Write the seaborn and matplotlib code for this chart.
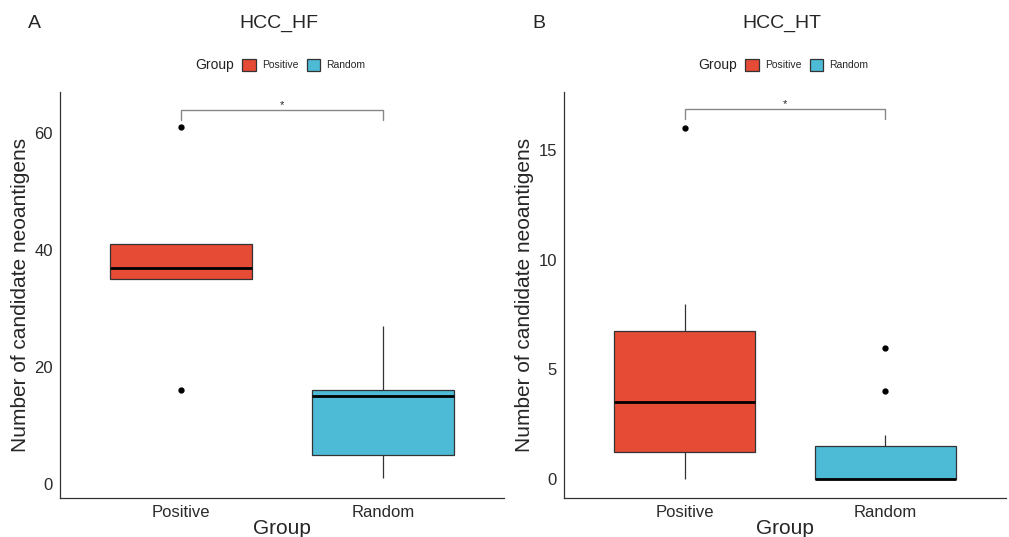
import pandas as pd
import seaborn as sns
import matplotlib.pyplot as plt
from matplotlib.patches import Patch

# values (quartiles / whiskers / outliers)
groups = ["Positive", "Random"]
hf_positive = [16, 35, 35, 37, 41, 41, 61]
hf_random = [1, 5, 15, 16, 27]
ht_positive = [0, 1, 1, 2, 3, 4, 6, 7, 8, 16]
ht_random = [0, 0, 0, 0, 0, 0, 0, 2, 4, 6]
colors = ["#E64B35", "#4DBBD5"]

sns.set_style("white")
plt.rcParams['font.family'] = ['Liberation Sans', 'DejaVu Sans']

fig = plt.figure(figsize=(10.09, 5.37), dpi=100)
ax1 = fig.add_axes([0.0595, 0.0726, 0.440, 0.756])
ax2 = fig.add_axes([0.559, 0.0726, 0.438, 0.756])


def long_df(pos, rnd):
    return pd.DataFrame({
        "Group": ["Positive"] * len(pos) + ["Random"] * len(rnd),
        "value": pos + rnd,
    })


panels = [
    (ax1, long_df(hf_positive, hf_random), "HCC_HF", "A", (-2.4, 67.0), [0, 20, 40, 60], 63.9, 62.2),
    (ax2, long_df(ht_positive, ht_random), "HCC_HT", "B", (-0.85, 17.63), [0, 5, 10, 15], 16.85, 16.4),
]

for ax, df, title, letter, ylim, yticks, br_y, br_tip in panels:
    sns.boxplot(data=df, x="Group", y="value", hue="Group", order=groups,
                hue_order=groups, palette=colors, saturation=1, width=0.7,
                legend=False, linecolor="#333333", linewidth=0.9, showcaps=False,
                medianprops=dict(color="black", linewidth=2),
                whiskerprops=dict(color="#333333", linewidth=0.9),
                flierprops=dict(marker="o", markerfacecolor="black",
                                markeredgecolor="black", markersize=3.5),
                ax=ax)
    ax.set_xlim(-0.6, 1.6)
    ax.set_ylim(*ylim)
    ax.set_yticks(yticks)
    sns.despine(ax=ax)
    for s in ["left", "bottom"]:
        ax.spines[s].set_color("#333333")
        ax.spines[s].set_linewidth(0.9)
    ax.tick_params(axis="both", direction="out", length=3, width=0.8,
                   color="#333333", labelsize=12, labelcolor="#2a2a2a", pad=2)
    ax.set_ylabel("Number of candidate neoantigens", fontsize=15, labelpad=3)
    ax.set_xlabel("Group", fontsize=15, labelpad=-1)

    # significance bracket
    ax.plot([0, 0, 1, 1], [br_tip, br_y, br_y, br_tip], color="#888888", lw=1,
            clip_on=False)
    ax.text(0.5, br_y, "*", ha="center", va="bottom", fontsize=8)

    # title, panel letter, legend
    bb = ax.get_position()
    cx = (bb.x0 + bb.x1) / 2
    fig.text(cx - 0.003, 1 - 23 / 537, title, ha="center", va="center", fontsize=14)
    fig.text(bb.x0 - 0.025, 1 - 23 / 537, letter, ha="center", va="center", fontsize=14)
    fig.text(cx - 0.0475, 1 - 65 / 537, "Group", ha="right", va="center", fontsize=10,
             color="#222222")
    handles = [Patch(facecolor=c, edgecolor="#333333", linewidth=0.9) for c in colors]
    ax.legend(handles, groups, loc="center", bbox_to_anchor=(cx + 0.0215, 1 - 65 / 537),
              bbox_transform=fig.transFigure, ncol=2, frameon=False, fontsize=7.5,
              handlelength=1.3, handleheight=1.3, handletextpad=0.6,
              columnspacing=0.8, borderpad=0)

fig.savefig("out.png", dpi=100)
